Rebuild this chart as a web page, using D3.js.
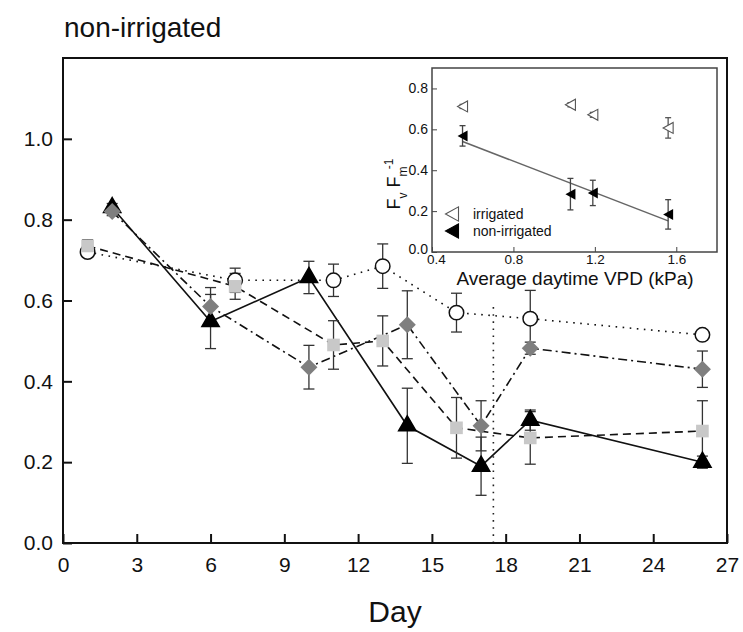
<!DOCTYPE html>
<html>
<head>
<meta charset="utf-8">
<script src="https://cdn.jsdelivr.net/npm/d3@7"></script>
<style>
  body { margin: 0; background: #fff; }
  text { font-family: "Liberation Sans", Arial, sans-serif; fill: #111; }
</style>
</head>
<body>
<div id="chart"></div>
<script>
// ---- main panel data ----
const daysA = [1, 7, 11, 13, 16, 19, 26];   // open circles + light squares
const daysB = [2, 6, 10, 14, 17, 19, 26];   // black triangles + grey diamonds

const circleVals = [0.72, 0.65, 0.65, 0.685, 0.57, 0.555, 0.515];
const circleErr  = [0.01, 0.03, 0.04, 0.055, 0.048, 0.07, 0.01];

const squareVals = [0.735, 0.635, 0.49, 0.50, 0.285, 0.26, 0.277];
const squareErr  = [0.015, 0.032, 0.06, 0.062, 0.075, 0.065, 0.075];

const triVals = [0.83, 0.548, 0.657, 0.29, 0.19, 0.304, 0.20];
const triErr  = [0.01, 0.067, 0.04, 0.093, 0.072, 0.025, 0.015];

const diamondVals = [0.82, 0.585, 0.435, 0.54, 0.29, 0.482, 0.43];
const diamondErr  = [0.01, 0.047, 0.054, 0.084, 0.062, 0.015, 0.045];

const xTicks = d3.range(0, 28, 3);
const yTicks = [0, 0.2, 0.4, 0.6, 0.8, 1.0];
const cutDay = 17.5, cutTop = 0.59;   // vertical dotted line

// ---- inset data ----
const vpd     = [0.55, 1.08, 1.19, 1.56];
const irrVals = [0.712, 0.72, 0.671, 0.607];
const irrErr  = [0.01, 0.01, 0.012, 0.05];
const nonVals = [0.568, 0.283, 0.289, 0.184];
const nonErr  = [0.05, 0.077, 0.062, 0.072];
const insetXTicks = [0.4, 0.8, 1.2, 1.6];
const insetYTicks = [0, 0.2, 0.4, 0.6, 0.8];

// ---- canvas ----
const W = 743, H = 632;
const svg = d3.select("#chart").append("svg")
    .attr("width", W)
    .attr("height", H);

const x = d3.scaleLinear().domain([0, 27]).range([63, 727]);
const y = d3.scaleLinear().domain([0, 1.2]).range([543, 58]);

// title
svg.append("text")
    .attr("x", 64).attr("y", 37)
    .style("font-size", "28px")
    .text("non-irrigated");

// axes (ticks point inward)
svg.append("g")
    .attr("transform", "translate(0,543)")
    .call(d3.axisBottom(x).tickValues(xTicks).tickSizeInner(-9).tickSizeOuter(0).tickPadding(14))
    .call(g => g.select(".domain").remove())
    .call(g => g.selectAll("line").attr("stroke", "#111").attr("stroke-width", 2))
    .call(g => g.selectAll("text").style("font-size", "21px").attr("fill", "#111"));

svg.append("g")
    .attr("transform", "translate(63,0)")
    .call(d3.axisLeft(y).tickValues(yTicks).tickFormat(d3.format(".1f")).tickSizeInner(-9).tickSizeOuter(0).tickPadding(10))
    .call(g => g.select(".domain").remove())
    .call(g => g.selectAll("line").attr("stroke", "#111").attr("stroke-width", 2))
    .call(g => g.selectAll("text").style("font-size", "21px").attr("fill", "#111"));

svg.append("text")
    .attr("x", 395).attr("y", 622)
    .attr("text-anchor", "middle")
    .style("font-size", "30px")
    .text("Day");

// vertical dotted line
svg.append("line")
    .attr("x1", x(cutDay)).attr("x2", x(cutDay))
    .attr("y1", y(0)).attr("y2", y(cutTop))
    .attr("stroke", "#222").attr("stroke-width", 1.6)
    .attr("stroke-dasharray", "1.6,5.5");

const series = [
  { days: daysA, vals: circleVals, err: circleErr, dash: "1.6,5.5", sym: d3.symbolCircle, size: 165, fill: "#fff", stroke: "#111", rot: 0 },
  { days: daysA, vals: squareVals, err: squareErr, dash: "8,5", sym: d3.symbolSquare, size: 160, fill: "#c8c8c8", stroke: "none", rot: 0 },
  { days: daysB, vals: triVals, err: triErr, dash: null, sym: d3.symbolTriangle, size: 130, fill: "#000", stroke: "#000", rot: 0 },
  { days: daysB, vals: diamondVals, err: diamondErr, dash: "9,4,2,4", sym: d3.symbolSquare, size: 145, fill: "#7f7f7f", stroke: "none", rot: 45 }
];

const line = d3.line().x(d => x(d.day)).y(d => y(d.v));
const pts = s => s.days.map((day, i) => ({ day, v: s.vals[i], e: s.err[i] }));

// lines
series.forEach(s => {
  svg.append("path")
      .datum(pts(s))
      .attr("d", line)
      .attr("fill", "none")
      .attr("stroke", "#111")
      .attr("stroke-width", 1.6)
      .attr("stroke-dasharray", s.dash);
});

// error bars
function errBars(g, data, sx, sy, cap, color) {
  const eb = g.selectAll(null).data(data).enter().append("g")
      .attr("stroke", color).attr("stroke-width", 1.3);
  eb.append("line")
      .attr("x1", d => sx(d.day)).attr("x2", d => sx(d.day))
      .attr("y1", d => sy(d.v - d.e)).attr("y2", d => sy(d.v + d.e));
  eb.append("line")
      .attr("x1", d => sx(d.day) - cap).attr("x2", d => sx(d.day) + cap)
      .attr("y1", d => sy(d.v + d.e)).attr("y2", d => sy(d.v + d.e));
  eb.append("line")
      .attr("x1", d => sx(d.day) - cap).attr("x2", d => sx(d.day) + cap)
      .attr("y1", d => sy(d.v - d.e)).attr("y2", d => sy(d.v - d.e));
}
series.forEach(s => errBars(svg, pts(s), x, y, 5.5, "#333"));

// markers
series.forEach(s => {
  svg.selectAll(null).data(pts(s)).enter().append("path")
      .attr("d", d3.symbol().type(s.sym).size(s.size))
      .attr("transform", d => `translate(${x(d.day)},${y(d.v)}) rotate(${s.rot})`)
      .attr("fill", s.fill)
      .attr("stroke", s.stroke)
      .attr("stroke-width", 1.5);
});

// frame
svg.append("rect")
    .attr("x", 63).attr("y", 58)
    .attr("width", 664).attr("height", 485)
    .attr("fill", "none").attr("stroke", "#111").attr("stroke-width", 2);

// ---- inset ----
const ix = d3.scaleLinear().domain([0.4, 1.8]).range([432, 717]);
const iy = d3.scaleLinear().domain([0, 0.9]).range([252, 68]);
const inset = svg.append("g");

inset.append("rect")
    .attr("x", 432).attr("y", 68)
    .attr("width", 285).attr("height", 184)
    .attr("fill", "#fff");

inset.append("g")
    .attr("transform", "translate(0,252)")
    .call(d3.axisBottom(ix).tickValues(insetXTicks).tickFormat(d3.format(".1f")).tickSizeInner(-5).tickSizeOuter(0).tickPadding(2))
    .call(g => g.select(".domain").remove())
    .call(g => g.selectAll("line").attr("stroke", "#444"))
    .call(g => g.selectAll("text").style("font-size", "13.5px").attr("fill", "#222"))
    .call(g => g.selectAll(".tick").filter(d => d === 0.4).select("text").attr("dx", 4));

inset.append("g")
    .attr("transform", "translate(432,0)")
    .call(d3.axisLeft(iy).tickValues(insetYTicks).tickFormat(d3.format(".1f")).tickSizeInner(-5).tickSizeOuter(0).tickPadding(4))
    .call(g => g.select(".domain").remove())
    .call(g => g.selectAll("line").attr("stroke", "#444"))
    .call(g => g.selectAll("text").style("font-size", "14px").attr("fill", "#222"))
    .call(g => g.selectAll(".tick").filter(d => d === 0).select("text").attr("dy", "0.1em"));

inset.append("text")
    .attr("x", 575).attr("y", 285)
    .attr("text-anchor", "middle")
    .style("font-size", "19px")
    .text("Average daytime VPD (kPa)");

const yl = inset.append("text")
    .attr("transform", "translate(400,184) rotate(-90)")
    .attr("text-anchor", "middle")
    .style("font-size", "18px");
yl.append("tspan").text("F");
yl.append("tspan").attr("baseline-shift", "sub").style("font-size", "12px").text("v");
yl.append("tspan").text(" F");
yl.append("tspan").attr("baseline-shift", "sub").style("font-size", "12px").text("m");
yl.append("tspan").attr("baseline-shift", "super").attr("dx", -6).style("font-size", "12px").text(" -1");

// regression for the non-irrigated points
const mx = d3.mean(vpd), my = d3.mean(nonVals);
const slope = d3.sum(vpd, (v, i) => (v - mx) * (nonVals[i] - my)) / d3.sum(vpd, v => (v - mx) * (v - mx));
const icpt = my - slope * mx;
const xr = d3.extent(vpd);
inset.append("line")
    .attr("x1", ix(xr[0])).attr("y1", iy(icpt + slope * xr[0]))
    .attr("x2", ix(xr[1])).attr("y2", iy(icpt + slope * xr[1]))
    .attr("stroke", "#666").attr("stroke-width", 1.5);

const irrPts = vpd.map((day, i) => ({ day, v: irrVals[i], e: irrErr[i] }));
const nonPts = vpd.map((day, i) => ({ day, v: nonVals[i], e: nonErr[i] }));
errBars(inset, irrPts, ix, iy, 3, "#555");
errBars(inset, nonPts, ix, iy, 3, "#444");

// left-pointing triangle
const leftTri = s => `M${-s * 0.5},0 L${s * 0.5},${-s * 0.55} L${s * 0.5},${s * 0.55} Z`;

inset.selectAll(null).data(irrPts).enter().append("path")
    .attr("d", leftTri(10))
    .attr("transform", d => `translate(${ix(d.day)},${iy(d.v)})`)
    .attr("fill", "#fff").attr("stroke", "#555").attr("stroke-width", 1.1);
inset.selectAll(null).data(nonPts).enter().append("path")
    .attr("d", leftTri(10))
    .attr("transform", d => `translate(${ix(d.day)},${iy(d.v)})`)
    .attr("fill", "#000");

// legend
const legend = [
  { label: "irrigated", fill: "#fff", stroke: "#555" },
  { label: "non-irrigated", fill: "#000", stroke: "#000" }
];
legend.forEach((d, i) => {
  inset.append("path")
      .attr("d", leftTri(13))
      .attr("transform", `translate(452,${214 + i * 17})`)
      .attr("fill", d.fill).attr("stroke", d.stroke).attr("stroke-width", 1.1);
  inset.append("text")
      .attr("x", 473).attr("y", 219 + i * 17)
      .style("font-size", "14px")
      .text(d.label);
});

inset.append("rect")
    .attr("x", 432).attr("y", 68)
    .attr("width", 285).attr("height", 184)
    .attr("fill", "none").attr("stroke", "#444").attr("stroke-width", 1.5);
</script>
</body>
</html>
